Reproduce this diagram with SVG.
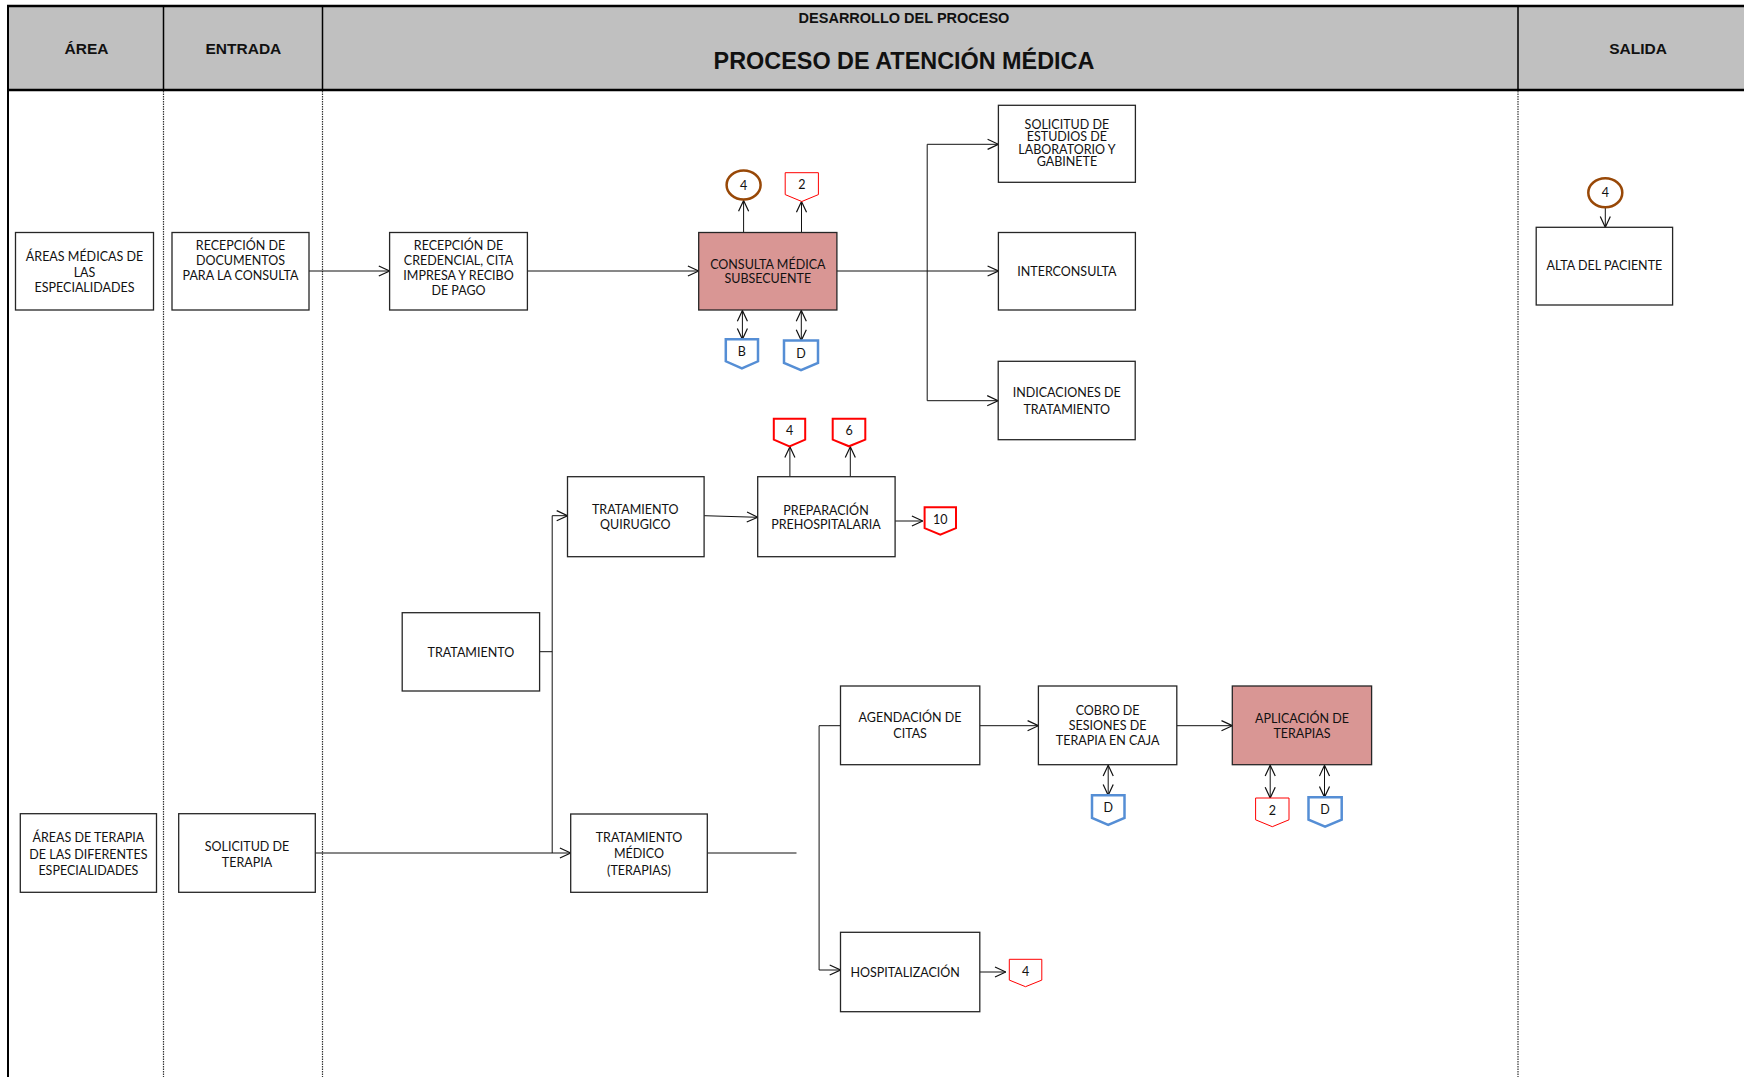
<svg xmlns="http://www.w3.org/2000/svg" width="1744" height="1077" viewBox="0 0 1744 1077">
<style>
.box{fill:#fff;stroke:#262626;stroke-width:1.3}
.hl{fill:#d99694}
.t{font-family:Lato,"Liberation Sans",sans-serif;font-size:12.5px;fill:#111;text-anchor:middle}
.pt{font-family:Lato,"Liberation Sans",sans-serif;font-size:12.5px;fill:#111;text-anchor:middle}
.h{font-family:"Liberation Sans",Arial,sans-serif;font-weight:bold;fill:#111;text-anchor:middle}
.c{fill:none;stroke:#111;stroke-width:1}
.ar{marker-end:url(#ah)}
.dbl{marker-start:url(#ah);marker-end:url(#ah)}
.pr{fill:#fff;stroke:#ff0000;stroke-width:1}
.prt{fill:#fff;stroke:#ff0000;stroke-width:2}
.pb{fill:#fff;stroke:#558ed5;stroke-width:2.5}
.circ{fill:#fff;stroke:#984807;stroke-width:2.5}
.dot{stroke:#333;stroke-width:1.2;stroke-dasharray:1.5 1}
</style>
<defs>
<marker id="ah" markerUnits="userSpaceOnUse" markerWidth="12" markerHeight="12" viewBox="0 0 10 10" refX="9.5" refY="5" orient="auto-start-reverse">
<path d="M0.5,0.8 L9.5,5 L0.5,9.2" fill="none" stroke="#111" stroke-width="1"/>
</marker>
</defs>
<rect width="1744" height="1077" fill="#fff"/>
<g id="header">
<rect x="8" y="6" width="1736" height="84" fill="#c0c0c0"/>
<line x1="7" y1="6" x2="1744" y2="6" stroke="#000" stroke-width="2.5"/>
<line x1="7" y1="90" x2="1744" y2="90" stroke="#000" stroke-width="2.5"/>
<line x1="8" y1="5" x2="8" y2="1077" stroke="#000" stroke-width="2"/>
<line x1="163.5" y1="6" x2="163.5" y2="90" stroke="#000" stroke-width="1.5"/>
<line x1="322.5" y1="6" x2="322.5" y2="90" stroke="#000" stroke-width="1.5"/>
<line x1="1518" y1="6" x2="1518" y2="90" stroke="#000" stroke-width="1.5"/>
<line class="dot" x1="163.5" y1="91" x2="163.5" y2="1077"/>
<line class="dot" x1="322.5" y1="91" x2="322.5" y2="1077"/>
<line class="dot" x1="1518" y1="91" x2="1518" y2="1077"/>
<text class="h" x="86.5" y="53.5" font-size="15.5">ÁREA</text>
<text class="h" x="243.4" y="53.5" font-size="15.5">ENTRADA</text>
<text class="h" x="904" y="23" font-size="14.5">DESARROLLO DEL PROCESO</text>
<text class="h" x="904" y="68.8" font-size="23.4">PROCESO DE ATENCIÓN MÉDICA</text>
<text class="h" x="1638" y="53.5" font-size="15.5">SALIDA</text>
</g>
<g id="connectors">
<path class="c ar" d="M309,271 H389.6"/>
<path class="c ar" d="M527.4,271 H698.7"/>
<path class="c ar" d="M836.9,271 H998.4"/>
<path class="c ar" d="M927.2,271 V144.3 H998.4"/>
<path class="c ar" d="M927.2,271 V400.7 H998"/>
<path class="c ar" d="M743.6,232.5 V200.5"/>
<path class="c ar" d="M801.5,232.5 V201.5"/>
<path class="c dbl" d="M742.4,310.5 V339.3"/>
<path class="c dbl" d="M801.3,310.5 V340.5"/>
<path class="c ar" d="M1605.3,207.5 V227.3"/>
<path class="c" d="M539.6,651.7 H552.2"/>
<path class="c ar" d="M552.2,853 V515.7 H567.5"/>
<path class="c ar" d="M315.3,853 H570.7"/>
<path class="c ar" d="M704.1,515.7 L757.7,517.3"/>
<path class="c ar" d="M895.1,521 H922.7"/>
<path class="c ar" d="M789.9,476.7 V446.8"/>
<path class="c ar" d="M850.3,476.7 V446.8"/>
<path class="c" d="M707.3,853 H796.5"/>
<path class="c ar" d="M840.5,725.7 H819.1 V970 H840.5"/>
<path class="c ar" d="M979.8,725.7 H1038.4"/>
<path class="c ar" d="M1176.8,725.7 H1232.3"/>
<path class="c dbl" d="M1108.2,765.3 V795.3"/>
<path class="c dbl" d="M1270.2,765.3 V798"/>
<path class="c dbl" d="M1324.5,765.3 V797.3"/>
<path class="c ar" d="M979.8,972 H1005.8"/>
</g>
<g id="n-areas-medicas">
<rect class="box" x="15.5" y="232.5" width="138" height="77.5"/>
<text class="t" x="84.5" y="260.5">ÁREAS MÉDICAS DE</text>
<text class="t" x="84.5" y="276.5">LAS</text>
<text class="t" x="84.5" y="291.8">ESPECIALIDADES</text>
</g>
<g id="n-recepcion-documentos">
<rect class="box" x="172" y="232.5" width="137" height="77.5"/>
<text class="t" x="240.5" y="249.5">RECEPCIÓN DE</text>
<text class="t" x="240.5" y="264.5">DOCUMENTOS</text>
<text class="t" x="240.5" y="279.8">PARA LA CONSULTA</text>
</g>
<g id="n-recepcion-credencial">
<rect class="box" x="389.6" y="232.5" width="137.8" height="77.5"/>
<text class="t" x="458.5" y="249.5">RECEPCIÓN DE</text>
<text class="t" x="458.5" y="264.5">CREDENCIAL, CITA</text>
<text class="t" x="458.5" y="279.8">IMPRESA Y RECIBO</text>
<text class="t" x="458.5" y="295.2">DE PAGO</text>
</g>
<g id="n-consulta">
<rect class="box hl" x="698.7" y="232.5" width="138.2" height="77.5"/>
<text class="t" x="767.8" y="268.5">CONSULTA MÉDICA</text>
<text class="t" x="767.8" y="283.2">SUBSECUENTE</text>
</g>
<g id="n-solicitud-estudios">
<rect class="box" x="998.4" y="105.3" width="137" height="77"/>
<text class="t" x="1066.9" y="128.5">SOLICITUD DE</text>
<text class="t" x="1066.9" y="141.2">ESTUDIOS DE</text>
<text class="t" x="1066.9" y="153.5">LABORATORIO Y</text>
<text class="t" x="1066.9" y="166.2">GABINETE</text>
</g>
<g id="n-interconsulta">
<rect class="box" x="998.4" y="232.5" width="137" height="77.5"/>
<text class="t" x="1066.9" y="276.2">INTERCONSULTA</text>
</g>
<g id="n-indicaciones">
<rect class="box" x="998.2" y="361.3" width="137" height="78.4"/>
<text class="t" x="1066.7" y="397.2">INDICACIONES DE</text>
<text class="t" x="1066.7" y="413.5">TRATAMIENTO</text>
</g>
<g id="n-alta">
<rect class="box" x="1536.2" y="227.3" width="136.4" height="77.7"/>
<text class="t" x="1604.4" y="270.2">ALTA DEL PACIENTE</text>
</g>
<g id="n-tratamiento-quirurgico">
<rect class="box" x="567.5" y="476.7" width="136.6" height="80"/>
<text class="t" x="635.3" y="513.5">TRATAMIENTO</text>
<text class="t" x="635.3" y="529.2">QUIRUGICO</text>
</g>
<g id="n-preparacion">
<rect class="box" x="757.7" y="476.7" width="137.4" height="80"/>
<text class="t" x="826" y="514.5">PREPARACIÓN</text>
<text class="t" x="826" y="529.2">PREHOSPITALARIA</text>
</g>
<g id="n-tratamiento">
<rect class="box" x="402.2" y="612.7" width="137.4" height="78.3"/>
<text class="t" x="470.9" y="657.2">TRATAMIENTO</text>
</g>
<g id="n-agendacion">
<rect class="box" x="840.5" y="686" width="139.3" height="78.7"/>
<text class="t" x="910.1" y="722.2">AGENDACIÓN DE</text>
<text class="t" x="910.1" y="738.2">CITAS</text>
</g>
<g id="n-cobro">
<rect class="box" x="1038.4" y="686" width="138.4" height="78.7"/>
<text class="t" x="1107.6" y="714.5">COBRO DE</text>
<text class="t" x="1107.6" y="730.2">SESIONES DE</text>
<text class="t" x="1107.6" y="745.2">TERAPIA EN CAJA</text>
</g>
<g id="n-aplicacion">
<rect class="box hl" x="1232.3" y="686" width="139.3" height="78.7"/>
<text class="t" x="1302" y="722.5">APLICACIÓN DE</text>
<text class="t" x="1302" y="738.2">TERAPIAS</text>
</g>
<g id="n-areas-terapia">
<rect class="box" x="20.3" y="813.7" width="136.2" height="78.6"/>
<text class="t" x="88.4" y="842.2">ÁREAS DE TERAPIA</text>
<text class="t" x="88.4" y="858.5">DE LAS DIFERENTES</text>
<text class="t" x="88.4" y="874.5">ESPECIALIDADES</text>
</g>
<g id="n-solicitud-terapia">
<rect class="box" x="178.7" y="813.7" width="136.6" height="78.6"/>
<text class="t" x="247" y="850.5">SOLICITUD DE</text>
<text class="t" x="247" y="866.5">TERAPIA</text>
</g>
<g id="n-tratamiento-medico">
<rect class="box" x="570.7" y="814" width="136.6" height="78.3"/>
<text class="t" x="639" y="842.2">TRATAMIENTO</text>
<text class="t" x="639" y="858.2">MÉDICO</text>
<text class="t" x="639" y="874.5">(TERAPIAS)</text>
</g>
<g id="n-hospitalizacion">
<rect class="box" x="840.5" y="932.3" width="139.3" height="79.4"/>
<text class="t" x="905.2" y="977.2">HOSPITALIZACIÓN</text>
</g>
<g id="c-4-consulta">
<ellipse class="circ" cx="743.6" cy="185" rx="17" ry="14.5"/>
<text class="pt" x="743.6" y="189.5">4</text>
</g>
<g id="c-4-alta">
<ellipse class="circ" cx="1605.3" cy="192.7" rx="17" ry="14.5"/>
<text class="pt" x="1605.3" y="197.2">4</text>
</g>
<g id="p-2-consulta">
<polygon class="pr" points="785.2,172.7 818.4,172.7 818.4,194.6 801.8,201.5 785.2,194.6"/>
<text class="pt" x="801.8" y="189.2">2</text>
</g>
<g id="p-b-consulta">
<polygon class="pb" points="725.8,339.3 758,339.3 758,361.3 741.9,368.3 725.8,361.3"/>
<text class="pt" x="741.9" y="356">B</text>
</g>
<g id="p-d-consulta">
<polygon class="pb" points="784,340.5 818,340.5 818,363 801,370.2 784,363"/>
<text class="pt" x="801" y="357.5">D</text>
</g>
<g id="p-4-prep">
<polygon class="prt" points="773.8,418.7 805.2,418.7 805.2,439.7 789.5,446.3 773.8,439.7"/>
<text class="pt" x="789.5" y="435.2">4</text>
</g>
<g id="p-6-prep">
<polygon class="prt" points="832.7,418.7 865.3,418.7 865.3,439.7 849,446.3 832.7,439.7"/>
<text class="pt" x="849" y="434.7">6</text>
</g>
<g id="p-10-prep">
<polygon class="prt" points="924.6,507.3 956,507.3 956,528.1 940.3,534.7 924.6,528.1"/>
<text class="pt" x="940.3" y="523.7">10</text>
</g>
<g id="p-d-cobro">
<polygon class="pb" points="1092,795.3 1124.5,795.3 1124.5,817.9 1108.2,825 1092,817.9"/>
<text class="pt" x="1108.2" y="812.2">D</text>
</g>
<g id="p-2-aplicacion">
<polygon class="pr" points="1255.6,798 1289,798 1289,819.8 1272.3,826.7 1255.6,819.8"/>
<text class="pt" x="1272.3" y="815.2">2</text>
</g>
<g id="p-d-aplicacion">
<polygon class="pb" points="1308.5,797.3 1341.7,797.3 1341.7,819.6 1325.1,826.7 1308.5,819.6"/>
<text class="pt" x="1325.1" y="814.2">D</text>
</g>
<g id="p-4-hosp">
<polygon class="pr" points="1009.3,959.3 1041.8,959.3 1041.8,980.1 1025.5,986.7 1009.3,980.1"/>
<text class="pt" x="1025.5" y="976.2">4</text>
</g>
</svg>
